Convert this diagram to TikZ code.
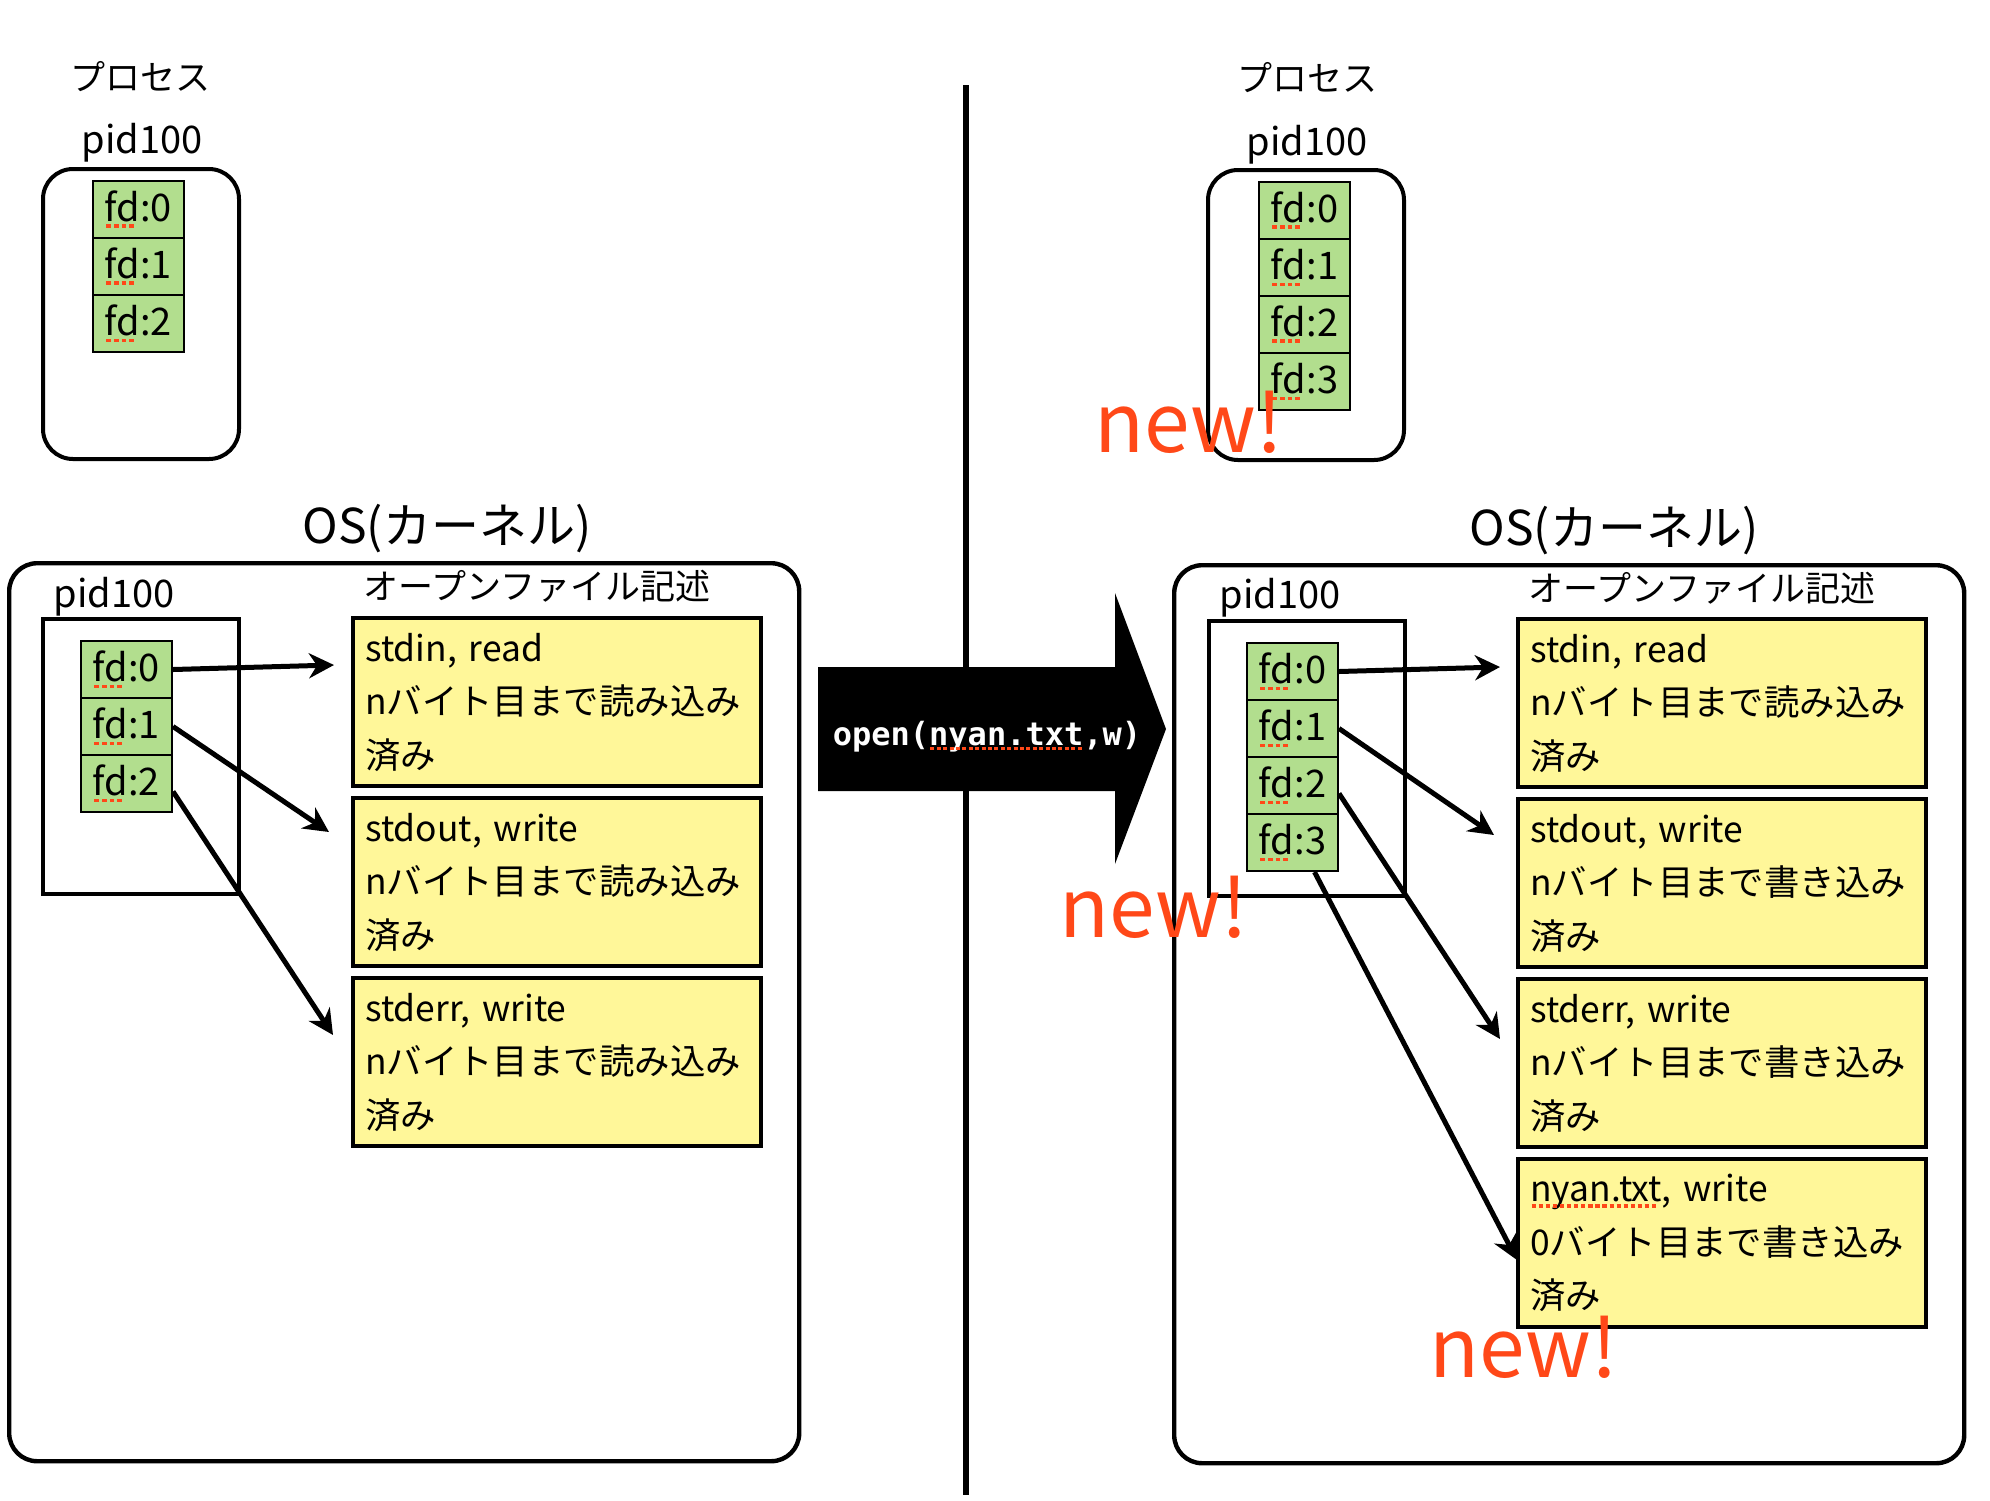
\documentclass[tikz,border=0pt]{standalone}
\usepackage{fontspec}
\setmainfont{Noto Sans CJK JP}
\newfontfamily\opfont{DejaVu Sans Mono}
\usepackage{xcolor}
\usepackage{tikz}
\usetikzlibrary{arrows.meta}

\definecolor{fdgreen}{RGB}{178,222,142}
\definecolor{descyellow}{RGB}{255,247,153}
\definecolor{newred}{RGB}{255,72,24}

\newlength\spellwd
\newcommand\spell[1]{\settowidth\spellwd{#1}\rlap{#1}\raisebox{-0.16em}{\color{newred}\leaders\hbox to 0.2em{\hss\vrule width 0.12em height 0.09em depth 0pt\hss}\hskip\spellwd}}

\tikzset{
    procbox/.style={draw, line width=2pt, rounded corners=15pt, minimum width=98pt, minimum height=145pt, anchor=north west, inner sep=0pt},
    pidbox/.style={draw, line width=2pt, minimum width=98pt, minimum height=137.5pt, anchor=north west, inner sep=0pt},
    osbox/.style={draw, line width=2.2pt, rounded corners=14pt, minimum width=395pt, minimum height=449pt, anchor=north west, inner sep=0pt},
    fdcell/.style={draw, line width=1pt, fill=fdgreen, minimum width=45.5pt, minimum height=28.5pt, anchor=north west, inner sep=0pt, font=\fontsize{19pt}{19pt}\selectfont},
    descbox/.style={draw, line width=2.2pt, fill=descyellow, minimum height=84pt, anchor=north west, text width=192pt, align=left, inner xsep=6pt, inner ysep=0pt, font=\fontsize{17.7pt}{26.75pt}\selectfont},
    jptext/.style={anchor=base, inner sep=0pt, font=\fontsize{17.5pt}{17.5pt}\selectfont},
    pidtext/.style={anchor=base, inner sep=0pt, font=\fontsize{19pt}{19pt}\selectfont},
    ostext/.style={anchor=base, inner sep=0pt, font=\fontsize{24pt}{24pt}\selectfont},
    fdarrow/.style={-{Stealth[length=12.5pt, width=12.5pt, inset=4pt]}, line width=2.5pt},
    newmark/.style={anchor=base west, inner sep=0pt, text=newred, font=\fontsize{41pt}{41pt}\selectfont}
}

\begin{document}
\begin{tikzpicture}[x=0.5pt, y=-0.5pt]

            \useasboundingbox (0,0) rectangle (1990,1500);

            \node[jptext] (prcL) at (140,90) {プロセス};
            \node[pidtext] (pidL) at (142,153) {pid100};
            \node[procbox] (procL) at (41,167) {};
            \node[fdcell] (pL0) at (92,180) {\spell{fd}:0};
            \node[fdcell] (pL1) at (92,237) {\spell{fd}:1};
            \node[fdcell] (pL2) at (92,294) {\spell{fd}:2};

            \node[ostext] (osLt) at (447,543) {OS(カーネル)};
            \node[osbox] (osL) at (7,561) {};
            \node[pidtext] (kpidLt) at (114,607) {pid100};
            \node[pidbox] (kpidL) at (41,617) {};
            \node[fdcell] (kL0) at (80,640) {\spell{fd}:0};
            \node[fdcell] (kL1) at (80,697) {\spell{fd}:1};
            \node[fdcell] (kL2) at (80,754) {\spell{fd}:2};

            \node[jptext] (ofdL) at (537,599) {オープンファイル記述};
            \node[descbox] (dL0) at (351,616) {stdin, read\\nバイト目まで読み込み\\済み};
            \node[descbox] (dL1) at (351,796) {stdout, write\\nバイト目まで読み込み\\済み};
            \node[descbox] (dL2) at (351,976) {stderr, write\\nバイト目まで読み込み\\済み};

            \coordinate (tL0) at (334,665);
            \coordinate (tL1) at (329,832);
            \coordinate (tL2) at (333,1035);
            \draw[fdarrow] (kL0.east) -- (tL0);
            \draw[fdarrow] (kL1.east) -- (tL1);
            \draw[fdarrow] ([yshift=-4pt]kL2.east) -- (tL2);

            \draw[line width=3pt] (966,85) -- (966,1495);
            \fill (818,667) -- (1115,667) -- (1115,593) -- (1166,729) -- (1115,864) -- (1115,791) -- (818,791) -- cycle;
            \node[anchor=base, inner sep=0pt, text=white, font=\opfont\bfseries\fontsize{16pt}{16pt}\selectfont] (opn) at (987,745) {open(\spell{nyan.txt},w)};

            \node[jptext] (prcR) at (1307,91) {プロセス};
            \node[pidtext] (pidR) at (1307,155) {pid100};
            \node[procbox] (procR) at (1206,168) {};
            \node[fdcell] (pR0) at (1258,181) {\spell{fd}:0};
            \node[fdcell] (pR1) at (1258,238) {\spell{fd}:1};
            \node[fdcell] (pR2) at (1258,295) {\spell{fd}:2};
            \node[fdcell] (pR3) at (1258,352) {\spell{fd}:3};

            \node[ostext] (osRt) at (1614,545) {OS(カーネル)};
            \node[osbox] (osR) at (1172,563) {};
            \node[pidtext] (kpidRt) at (1280,608) {pid100};
            \node[pidbox] (kpidR) at (1207,619) {};
            \node[fdcell] (kR0) at (1246,642) {\spell{fd}:0};
            \node[fdcell] (kR1) at (1246,699) {\spell{fd}:1};
            \node[fdcell] (kR2) at (1246,756) {\spell{fd}:2};
            \node[fdcell] (kR3) at (1246,813) {\spell{fd}:3};

            \node[jptext] (ofdR) at (1702,601) {オープンファイル記述};
            \node[descbox] (dR0) at (1516,617) {stdin, read\\nバイト目まで読み込み\\済み};
            \node[descbox] (dR1) at (1516,797) {stdout, write\\nバイト目まで書き込み\\済み};
            \node[descbox] (dR2) at (1516,977) {stderr, write\\nバイト目まで書き込み\\済み};
            \node[descbox] (dR3) at (1516,1157) {\spell{nyan.txt}, write\\0バイト目まで書き込み\\済み};

            \coordinate (tR0) at (1500,667);
            \coordinate (tR1) at (1494,835);
            \coordinate (tR2) at (1500,1039);
            \coordinate (tR3) at (1517,1260);
            \draw[fdarrow] (kR0.east) -- (tR0);
            \draw[fdarrow] (kR1.east) -- (tR1);
            \draw[fdarrow] ([yshift=-4pt]kR2.east) -- (tR2);
            \draw[fdarrow] ([xshift=11pt]kR3.south) -- (tR3);

            \node[newmark] (newP) at (1094,452) {new!};
            \node[newmark] (newK) at (1059,937) {new!};
            \node[newmark] (newD) at (1429,1377) {new!};

        \end{tikzpicture}
\end{document}
